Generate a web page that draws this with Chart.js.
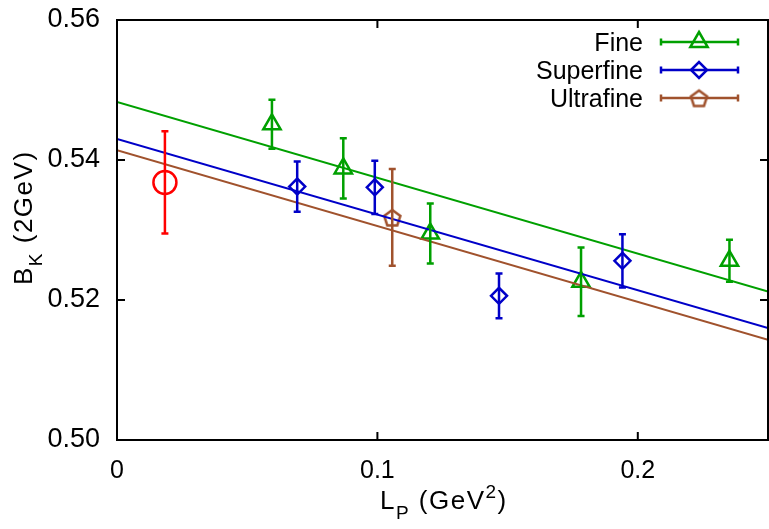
<!DOCTYPE html>
<html>
<head>
<meta charset="utf-8">
<script src="https://cdn.jsdelivr.net/npm/chart.js@4.4.1/dist/chart.umd.min.js"></script>
<style>
  html, body { margin: 0; padding: 0; background: white; overflow: hidden; }
  #bkChart { display: block; }
</style>
</head>
<body>
<canvas id="bkChart" width="769" height="529"></canvas>
<script>

// B_K vs L_P data

var fineX = [0.0595, 0.0869, 0.1203, 0.1782, 0.2352];
var fineY = [0.5451, 0.5388, 0.5295, 0.5226, 0.5256];
var fineErr = [0.0035, 0.0043, 0.0043, 0.0049, 0.0030];

var superX = [0.0692, 0.0990, 0.1467, 0.1941];
var superY = [0.5362, 0.5361, 0.5206, 0.5256];
var superErr = [0.0036, 0.0038, 0.0032, 0.0038];

var ultraX = [0.1057];
var ultraY = [0.5318];
var ultraErr = [0.0069];

var contX = [0.0184];
var contY = [0.5368];
var contErr = [0.0073];

// fit lines, value at x = 0 and x = 0.25
var fitX = [0, 0.25];
var fineFit = [0.5483, 0.5212];
var superFit = [0.5430, 0.5160];
var ultraFit = [0.5414, 0.5143];

var xTicks = [0, 0.1, 0.2];
var yTicks = [0.50, 0.52, 0.54, 0.56];

var legendNames = ['Fine', 'Superfine', 'Ultrafine'];


var GREEN = '#00a000';
var BLUE = '#0000c8';
var BROWN = '#a0522d';
var RED = '#ff0000';
var FONT = "'Liberation Sans', Arial, sans-serif";

Chart.defaults.font.family = FONT;
Chart.defaults.font.size = 24;
Chart.defaults.color = 'black';


function points(xs, ys) {
    var out = [];
    for (var i = 0; i < xs.length; i++) {
        out.push({x: xs[i], y: ys[i]});}
    return out;
}

// pentagon marker, no built in one
function pentagon(color, r) {
    var c = document.createElement('canvas');
    var s = Math.ceil(2 * r + 6);
    c.width = s; c.height = s;
    var g = c.getContext('2d');
    g.strokeStyle = color;
    g.lineWidth = 2.5;
    g.beginPath();
    for (var k = 0; k < 5; k++) {
        var a = -Math.PI / 2 + k * 2 * Math.PI / 5;
        var px = s / 2 + r * Math.cos(a);
        var py = s / 2 + 1 + r * Math.sin(a);
        if (k == 0) g.moveTo(px, py); else g.lineTo(px, py);
    }
    g.closePath();
    g.stroke();
    return c;
}

var pentaImg = pentagon(BROWN, 8.5);

var markers = [
    {color: GREEN, style: 'triangle', radius: 10},
    {color: BLUE, style: 'rectRot', radius: 8},
    {color: BROWN, style: pentaImg, radius: 8},];

var errorSets = [
    {xs: fineX, ys: fineY, err: fineErr, color: GREEN},
    {xs: superX, ys: superY, err: superErr, color: BLUE},
    {xs: ultraX, ys: ultraY, err: ultraErr, color: BROWN},
    {xs: contX, ys: contY, err: contErr, color: RED},];


function errBar(ctx, x, y1, y2, color, cap) {
    ctx.strokeStyle = color;
    ctx.lineWidth = 2.5;
    ctx.beginPath();
    ctx.moveTo(x, y1); ctx.lineTo(x, y2);
    ctx.moveTo(x - cap, y1); ctx.lineTo(x + cap, y1);
    ctx.moveTo(x - cap, y2); ctx.lineTo(x + cap, y2);
    ctx.stroke();
}

// draws text pieces one after another: [text, size, baseline shift]
function richText(ctx, parts, x, y) {
    parts.forEach(function(p) {
        ctx.font = p[1] + 'px ' + FONT;
        ctx.fillText(p[0], x, y + p[2]);
        x += ctx.measureText(p[0]).width;
    });
}


var extrasPlugin = {
    id: 'extras',

    // plot box runs to the right edge of the canvas
    afterLayout: function(chart) {
        var xs = chart.scales.x;
        var r = chart.width - 1;
        chart.chartArea.right = r;
        chart.chartArea.width = r - chart.chartArea.left;
        xs.right = r;
        xs.width = r - xs.left;
        xs.configure();
    },

    afterDatasetsDraw: function(chart) {
        var ctx = chart.ctx;
        var xs = chart.scales.x, ys = chart.scales.y;
        var area = chart.chartArea;

        ctx.save();
        ctx.beginPath();
        ctx.rect(area.left, area.top, area.right - area.left, area.bottom - area.top);
        ctx.clip();
        errorSets.forEach(function(set) {
            for (var i = 0; i < set.xs.length; i++) {
                var px = xs.getPixelForValue(set.xs[i]);
                errBar(ctx, px,
                    ys.getPixelForValue(set.ys[i] + set.err[i]),
                    ys.getPixelForValue(set.ys[i] - set.err[i]),
                    set.color, 3.5);
            }
        });
        ctx.restore();

        // frame with inward ticks on all sides
        ctx.save();
        ctx.strokeStyle = 'black';
        ctx.lineWidth = 2;
        ctx.strokeRect(area.left, area.top, area.right - area.left, area.bottom - area.top);
        ctx.beginPath();
        xTicks.forEach(function(v) {
            var px = xs.getPixelForValue(v);
            ctx.moveTo(px, area.bottom); ctx.lineTo(px, area.bottom - 8);
            ctx.moveTo(px, area.top); ctx.lineTo(px, area.top + 8);
        });
        yTicks.forEach(function(v) {
            var py = ys.getPixelForValue(v);
            ctx.moveTo(area.left, py); ctx.lineTo(area.left + 8, py);
            ctx.moveTo(area.right, py); ctx.lineTo(area.right - 8, py);
        });
        ctx.stroke();
        ctx.restore();

        // legend: text right aligned, error bar sample to the right
        ctx.save();
        ctx.font = '25px ' + FONT;
        ctx.textAlign = 'right';
        ctx.textBaseline = 'alphabetic';
        for (var i = 0; i < legendNames.length; i++) {
            var ly = 42 + i * 28;
            var m = markers[i];
            ctx.fillStyle = 'black';
            ctx.fillText(legendNames[i], 643, ly + 9);
            ctx.strokeStyle = m.color;
            ctx.lineWidth = 2.5;
            ctx.beginPath();
            ctx.moveTo(661, ly); ctx.lineTo(738, ly);
            ctx.moveTo(661, ly - 3.5); ctx.lineTo(661, ly + 3.5);
            ctx.moveTo(738, ly - 3.5); ctx.lineTo(738, ly + 3.5);
            ctx.stroke();
            ctx.fillStyle = 'rgba(0,0,0,0)';
            Chart.helpers.drawPoint(ctx, {
                pointStyle: m.style, radius: m.radius, borderWidth: 2.5,
                rotation: 0}, 699, ly);
        }
        ctx.restore();
    },

    afterDraw: function(chart) {
        var ctx = chart.ctx;
        ctx.save();
        ctx.fillStyle = 'black';
        ctx.textBaseline = 'alphabetic';
        ctx.textAlign = 'left';
        ctx.letterSpacing = '1.5px';

        // x title: L_P (GeV^2)
        richText(ctx, [['L', 26, 0], ['P', 19, 10], [' (GeV', 26, 0],
            ['2', 19, -11], [')', 26, 0]], 380, 509);

        // y title: B_K (2GeV), rotated, starting from the bottom
        ctx.translate(32, 285);
        ctx.rotate(-Math.PI / 2);
        richText(ctx, [['B', 26, 0], ['K', 19, 10], [' (2GeV)', 26, 0]], 0, 0);
        ctx.restore();
    },
};


var ctx = document.getElementById('bkChart').getContext('2d');

var chart_object = new Chart(ctx, {
    type: 'scatter',

    data: {
        datasets: [
            {label: 'Fine fit', data: points(fitX, fineFit), showLine: true,
                borderColor: GREEN, borderWidth: 2, pointRadius: 0},
            {label: 'Superfine fit', data: points(fitX, superFit), showLine: true,
                borderColor: BLUE, borderWidth: 2, pointRadius: 0},
            {label: 'Ultrafine fit', data: points(fitX, ultraFit), showLine: true,
                borderColor: BROWN, borderWidth: 2, pointRadius: 0},
            {label: 'Fine', data: points(fineX, fineY),
                pointStyle: 'triangle', pointRadius: 10, borderColor: GREEN,
                backgroundColor: 'transparent', borderWidth: 2.5},
            {label: 'Superfine', data: points(superX, superY),
                pointStyle: 'rectRot', pointRadius: 8, borderColor: BLUE,
                backgroundColor: 'transparent', borderWidth: 2.5},
            {label: 'Ultrafine', data: points(ultraX, ultraY),
                pointStyle: pentaImg, pointRadius: 8, borderColor: BROWN,
                backgroundColor: 'transparent', borderWidth: 2.5},
            {label: 'Continuum', data: points(contX, contY),
                pointStyle: 'circle', pointRadius: 11.5, borderColor: RED,
                backgroundColor: 'transparent', borderWidth: 2.5},
        ],},

    options: {
        responsive: false,
        animation: false,
        layout: {padding: {top: 20, right: 1, left: 0, bottom: 0}},

        scales: {
            x: {
                type: 'linear',
                min: 0,
                max: 0.25,
                grid: {display: false, drawTicks: false},
                border: {display: false},
                afterBuildTicks: function(scale) {
                    scale.ticks = xTicks.map(function(v) { return {value: v}; });},
                afterFit: function(scale) {
                    scale.height = 89;
                    scale.paddingLeft = 0;
                    scale.paddingRight = 0;},
                ticks: {
                    padding: 16,
                    color: 'black',
                    font: {size: 25},
                    callback: function(v) { return v == 0 ? '0' : v.toFixed(1); },},},
            y: {
                type: 'linear',
                min: 0.50,
                max: 0.56,
                grid: {display: false, drawTicks: false},
                border: {display: false},
                afterBuildTicks: function(scale) {
                    scale.ticks = yTicks.map(function(v) { return {value: v}; });},
                afterFit: function(scale) {
                    scale.width = 117;
                    scale.paddingTop = 0;
                    scale.paddingBottom = 0;},
                ticks: {
                    padding: 17,
                    color: 'black',
                    font: {size: 27},
                    callback: function(v) { return v.toFixed(2); },},},
        },

        plugins: {
            legend: {display: false},
            tooltip: {enabled: false},
        },
    },
    plugins: [extrasPlugin],
});

</script>
</body>
</html>
